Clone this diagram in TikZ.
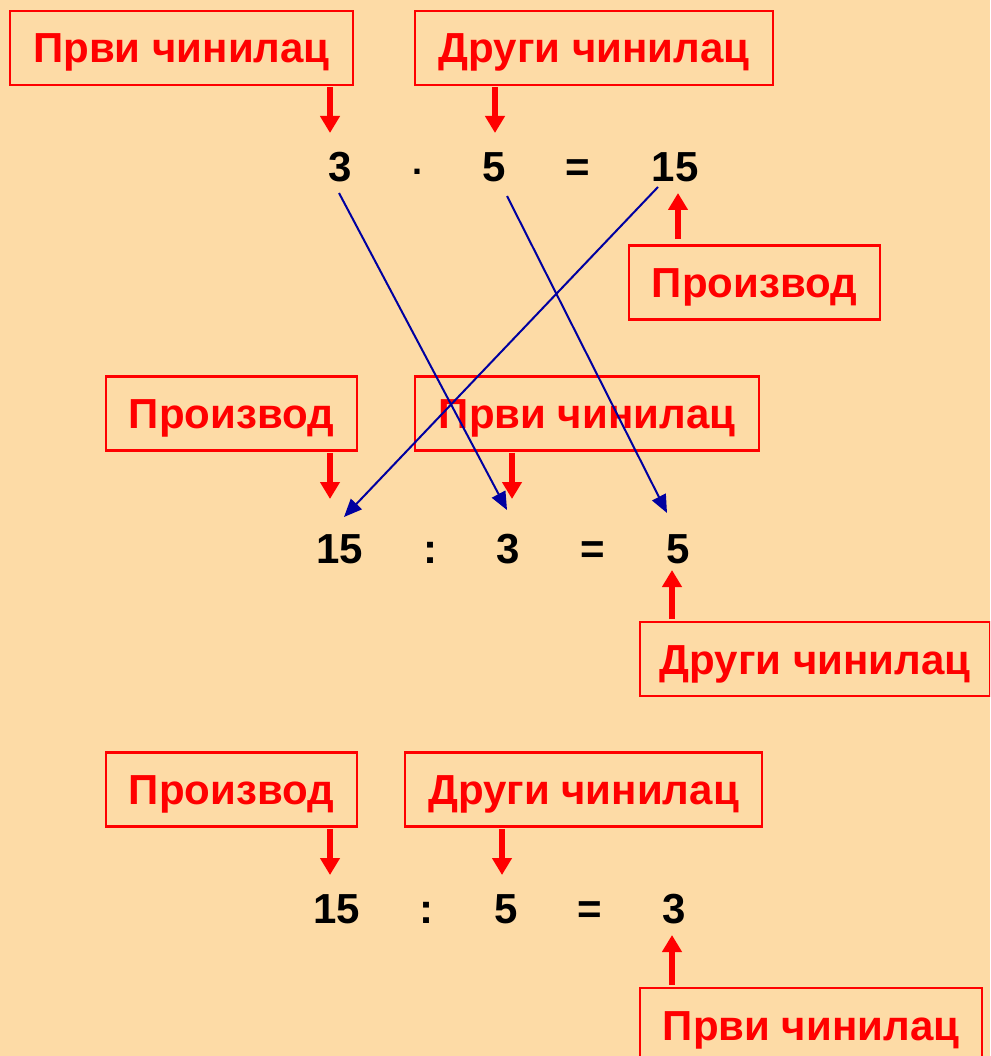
\documentclass[tikz,border=0pt]{standalone}
\usepackage{fontspec}
\setmainfont{Liberation Sans}
\usetikzlibrary{arrows.meta}
\definecolor{bg}{RGB}{253,219,166}
\definecolor{navy}{RGB}{0,0,160}
\begin{document}
\begin{tikzpicture}[x=1pt,y=-1pt,
  lbl/.style={draw=red, line width=2.5pt, text=red, font=\fontsize{42}{50}\bfseries\selectfont,
    text height=30pt, text depth=0pt, inner sep=0pt, minimum width=#1, minimum height=74pt},
  num/.style={font=\fontsize{42}{50}\bfseries\selectfont, anchor=base, inner sep=0pt},
  redarr/.style={draw=red, line width=6pt, -{Triangle[width=19pt,length=17pt]}},
  bluearr/.style={draw=navy, line width=2pt, -{Triangle[width=15pt,length=18pt]}}]
\clip (0,0) rectangle (990,1056);
\fill[bg] (0,0) rectangle (990,1056);
% boxes
\node[lbl=343pt] (b1) at (181.5,48) {Први чинилац};
\node[lbl=358pt] (b2) at (594,48) {Други чинилац};
\node[lbl=251pt] (b3) at (754.5,282.5) {Производ};
\node[lbl=251pt] (b4) at (231.5,413.5) {Производ};
\node[lbl=344pt] (b5) at (587,413.5) {Први чинилац};
\node[lbl=350pt] (b6) at (815,659) {Други чинилац};
\node[lbl=251pt] (b7) at (231.5,789.5) {Производ};
\node[lbl=357pt] (b8) at (583.5,789.5) {Други чинилац};
\node[lbl=342pt] (b9) at (811,1025) {Први чинилац};
% row 1
\node[num] (a3) at (340,182) {3};
\node[num, font=\fontsize{36}{40}\bfseries\selectfont] (adot) at (417,175) {.};
\node[num] (a5) at (494,182) {5};
\node[num] (aeq) at (578,182) {=};
\node[num] (a15) at (675,182) {15};
% row 2
\node[num] (c15) at (340,563) {15};
\node[num] (ccol) at (430,563) {:};
\node[num] (c3) at (508,563) {3};
\node[num] (ceq) at (593,563) {=};
\node[num] (c5) at (678,563) {5};
% row 3
\node[num] (d15) at (337,923) {15};
\node[num] (dcol) at (426,923) {:};
\node[num] (d5) at (506,923) {5};
\node[num] (deq) at (590,923) {=};
\node[num] (d3) at (674,923) {3};
% red arrow tips
\coordinate (t1) at (330,133);
\coordinate (t2) at (495,133);
\coordinate (t3) at (678,193);
\coordinate (t4) at (330,499);
\coordinate (t5) at (512,499);
\coordinate (t6) at (672,570);
\coordinate (t7) at (330,875);
\coordinate (t8) at (502,875);
\coordinate (t9) at (672,935);
\draw[redarr] ([yshift=-1pt]b1.south -| t1) -- (t1);
\draw[redarr] ([yshift=-1pt]b2.south -| t2) -- (t2);
\draw[redarr] ([yshift=5pt]b3.north -| t3) -- (t3);
\draw[redarr] ([yshift=-1pt]b4.south -| t4) -- (t4);
\draw[redarr] ([yshift=-1pt]b5.south -| t5) -- (t5);
\draw[redarr] ([yshift=2pt]b6.north -| t6) -- (t6);
\draw[redarr] ([yshift=-1pt]b7.south -| t7) -- (t7);
\draw[redarr] ([yshift=-1pt]b8.south -| t8) -- (t8);
\draw[redarr] ([yshift=2pt]b9.north -| t9) -- (t9);
% blue connectors
\coordinate (s3) at (339,193);
\coordinate (e3) at (507,510);
\coordinate (s5) at (507,196);
\coordinate (e5) at (667,513);
\coordinate (s15) at (658,187);
\coordinate (e15) at (344,517);
\draw[bluearr] (s3) -- (e3);
\draw[bluearr] (s5) -- (e5);
\draw[bluearr] (s15) -- (e15);
\end{tikzpicture}
\end{document}
